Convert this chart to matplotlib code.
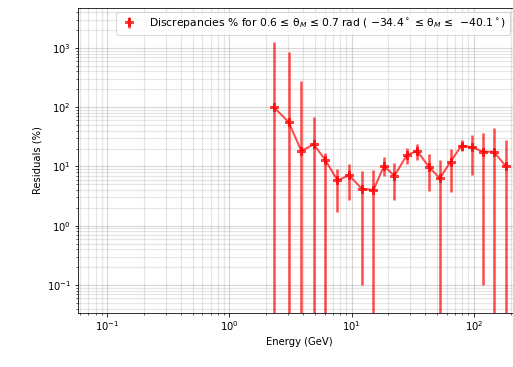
import matplotlib
matplotlib.use('Agg')
import matplotlib.pyplot as plt
import numpy as np

# energy bins (GeV) and residuals (%) with errors
energy = [2.30, 3.05, 3.87, 4.90, 6.10, 7.66, 9.54, 12.1, 15.1, 18.4, 22.4,
          28.2, 34.4, 43.0, 52.7, 64.5, 79.4, 97.5, 119, 146, 182]
resid = [100, 56, 18.2, 23.6, 12.7, 5.8, 7.1, 4.2, 4.0, 10.2, 6.9,
         15.4, 18.2, 9.8, 6.3, 12.0, 22.5, 21.0, 17.7, 17.7, 10.2]
err_up = [1140, 795, 255, 45, 3.9, 3.4, 4.0, 4.2, 4.6, 4.2, 4.7,
          5.3, 5.4, 6.2, 6.4, 7.9, 5.5, 13.3, 18.4, 27, 17.4]
err_low = [100, 56, 18.2, 23.6, 12.7, 4.1, 4.4, 4.1, 4.0, 3.3, 4.2,
           4.5, 5.5, 6.0, 6.3, 8.3, 4.5, 13.9, 17.6, 17.7, 10.2]

W, H = 513, 367
fig = plt.figure(figsize=(W / 72, H / 72), dpi=72)
ax = fig.add_axes([78 / W, (H - 312.5) / H, (520 - 78) / W, (312.5 - 8.3) / H])

lab = 'Discrepancies % for 0.6 ≤ θ$_M$ ≤ 0.7 rad ( $-$34.4$^\\circ$ ≤ θ$_M$ ≤  $-$40.1$^\\circ$)'
ax.errorbar(energy, resid, yerr=[err_low, err_up], fmt='P', color='red',
            alpha=0.7, elinewidth=2.5, markersize=8, label=lab)
ax.plot(energy, resid, '-', color='red', alpha=0.7, linewidth=2)

ax.set_xscale('log')
ax.set_yscale('log')
ax.set_xlim(0.0575, 239)
ax.set_ylim(0.0344, 4640)
ax.grid(True, which='major', color='grey', alpha=0.3, linewidth=1.2)
ax.grid(True, which='minor', color='grey', alpha=0.2, linewidth=1.2)
ax.set_xlabel('Energy (GeV)', fontsize=10)
ax.set_ylabel('Residuals (%)', fontsize=10)
ax.tick_params(labelsize=10)
ax.legend(loc='upper right', bbox_to_anchor=(0.977, 0.988), fontsize=10.7,
          borderaxespad=0.0, handletextpad=1.0, handlelength=1.6)

fig.savefig('out.png', dpi=72)
